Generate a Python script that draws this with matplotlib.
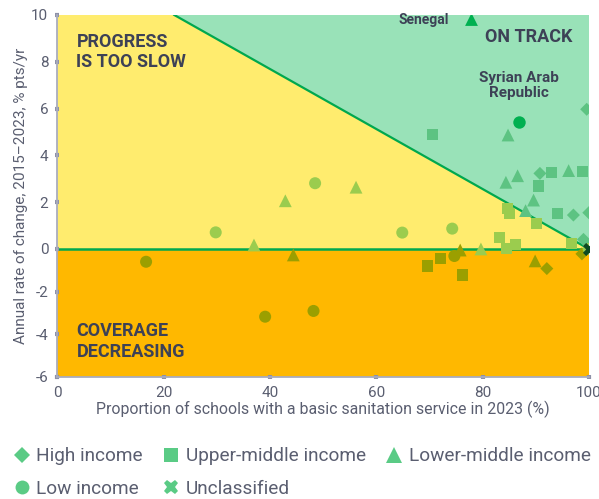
import numpy as np
import matplotlib
matplotlib.use("Agg")
import matplotlib.pyplot as plt
from matplotlib.lines import Line2D

plt.rcParams['font.family'] = ['Roboto', 'DejaVu Sans']

# values
high_x = [99.6, 90.8, 97.1, 100, 99.0, 98.7, 92.1, 100]
high_y = [5.97, 3.23, 1.45, 1.55, 0.41, -0.23, -0.92, 0.0]
upper_x = [70.6, 93.0, 98.8, 90.5, 84.7, 85.1, 94.1, 90.2, 83.2, 86.2, 84.5, 96.8, 100, 69.6, 72.1, 76.3]
upper_y = [4.90, 3.28, 3.30, 2.69, 1.72, 1.50, 1.50, 1.07, 0.50, 0.20, 0.03, 0.24, 0.16, -0.80, -0.45, -1.22]
lower_x = [84.8, 84.4, 86.6, 96.2, 89.6, 88.1, 56.2, 42.9, 37.0, 44.4, 75.8, 79.7, 89.9]
lower_y = [4.87, 2.85, 3.13, 3.35, 2.09, 1.64, 2.64, 2.06, 0.17, -0.28, -0.05, 0.0, -0.56]
low_x = [16.7, 29.8, 39.1, 48.5, 48.2, 64.9, 74.3, 74.7, 100]
low_y = [-0.60, 0.71, -3.18, 2.81, -2.91, 0.70, 0.87, -0.33, 0.0]
unclass_x = [100]
unclass_y = [0.0]

hl_names = ['Senegal', 'Syrian Arab\nRepublic']
hl_x = [77.9, 86.8]
hl_y = [9.83, 5.43]
hl_marker = ['^', 'o']

years_to_target = 7.8   # slope of the "on track" line

GREEN_BG = (153, 226, 184)
YELLOW_BG = (255, 236, 110)
ORANGE_BG = (255, 184, 0)
MARK = (155, 220, 180)
LINE = '#00A84F'
TXT = '#3D4156'
GREY = '#5A5E70'


def hexc(rgb):
    return tuple(c / 255 for c in rgb)


def tint(x, y):
    # marker colours look multiplied onto the background
    if y < 0:
        bg = ORANGE_BG
    elif y > (100 - x) / years_to_target:
        bg = GREEN_BG
    else:
        bg = YELLOW_BG
    return tuple(b * m / 255 / 255 for b, m in zip(bg, MARK))


def fwd(y):
    y = np.asarray(y, dtype=float)
    return np.where(y < 0, y * 0.91, y)


def inv(y):
    y = np.asarray(y, dtype=float)
    return np.where(y < 0, y / 0.91, y)


fig = plt.figure(figsize=(5.99, 4.99), dpi=100)
ax = fig.add_axes([0.0957, 0.245, 0.8873, 0.725])
ax.set_yscale('function', functions=(fwd, inv))
ax.set_xlim(0, 100)
ax.set_ylim(-6, 10)

x10 = 100 - 10 * years_to_target
ax.fill_between([0, 100], -6, 0, color=hexc(ORANGE_BG), lw=0, zorder=0)
ax.fill([0, 0, x10, 100], [0, 10, 10, 0], color=hexc(YELLOW_BG), lw=0, zorder=0)
ax.fill([x10, 100, 100], [10, 10, 0], color=hexc(GREEN_BG), lw=0, zorder=0)
ax.plot([x10, 100], [10, 0], color=LINE, lw=1.6, zorder=1)
ax.axhline(0, color=LINE, lw=1.8, zorder=1)

groups = [
    (high_x, high_y, 'D', 44),
    (upper_x, upper_y, 's', 64),
    (lower_x, lower_y, '^', 85),
    (low_x, low_y, 'o', 75),
]
for xs, ys, m, s in groups:
    cols = [tint(a, b) for a, b in zip(xs, ys)]
    ax.scatter(xs, ys, marker=m, s=s, c=cols, lw=0, zorder=3)
ax.scatter(unclass_x, unclass_y, marker='X', s=90, c='#0B4A22', lw=0, zorder=4)

for name, x, y, m in zip(hl_names, hl_x, hl_y, hl_marker):
    ax.scatter([x], [y], marker=m, s=85 if m == '^' else 80, c='#00B050', lw=0, zorder=5)
ax.text(hl_x[0] - 4.3, hl_y[0] - 0.05, hl_names[0], ha='right', va='center',
        fontsize=10, fontweight='bold', color=TXT)
ax.text(hl_x[1], hl_y[1] + 0.95, hl_names[1], ha='center', va='bottom',
        fontsize=11, fontweight='semibold', color=TXT, linespacing=1.05)

ax.text(3.6, 9.25, 'PROGRESS\nIS TOO SLOW', ha='left', va='top', fontsize=13,
        fontweight='bold', color=TXT, linespacing=1.2)
ax.text(80.5, 9.05, 'ON TRACK', ha='left', va='center', fontsize=13,
        fontweight='bold', color=TXT)
ax.text(3.6, -3.45, 'COVERAGE\nDECREASING', ha='left', va='top', fontsize=13,
        fontweight='bold', color=TXT, linespacing=1.2)

for side in ['top', 'right']:
    ax.spines[side].set_visible(False)
for side in ['left', 'bottom']:
    ax.spines[side].set_color('#A9ACBD')
    ax.spines[side].set_linewidth(1.3)
ax.set_xticks([0, 20, 40, 60, 80, 100])
ax.set_yticks([-6, -4, -2, 0, 2, 4, 6, 8, 10])
ax.set_yticklabels(['-6', '-4', '-2', '0', '2', '4', '6', '8', '10'])
ax.tick_params(direction='inout', length=3, width=3, color='#8E91A8',
               labelcolor=GREY, labelsize=11, pad=5)
ax.set_xlabel('Proportion of schools with a basic sanitation service in 2023 (%)',
              fontsize=11.4, color=GREY, labelpad=1)
ax.set_ylabel('Annual rate of change, 2015\u20132023, % pts/yr',
              fontsize=11, color=GREY, labelpad=2)

leg_col = hexc((90, 203, 133))
def h(m, ms):
    return Line2D([], [], marker=m, ls='', color=leg_col, ms=ms, mew=0)

handles = [h('D', 8.5), h('o', 10), h('s', 10), h('X', 10.5), h('^', 11.5)]
labels = ['High income', 'Low income', 'Upper-middle income', 'Unclassified',
          'Lower-middle income']
fig.legend(handles, labels, ncol=3, loc='center left', bbox_to_anchor=(0.005, 0.053),
           frameon=False, fontsize=13.7, labelcolor=GREY, handlelength=1.0,
           handletextpad=0.25, columnspacing=1.0, labelspacing=0.75, borderpad=0)

fig.savefig('out.png', dpi=100)
